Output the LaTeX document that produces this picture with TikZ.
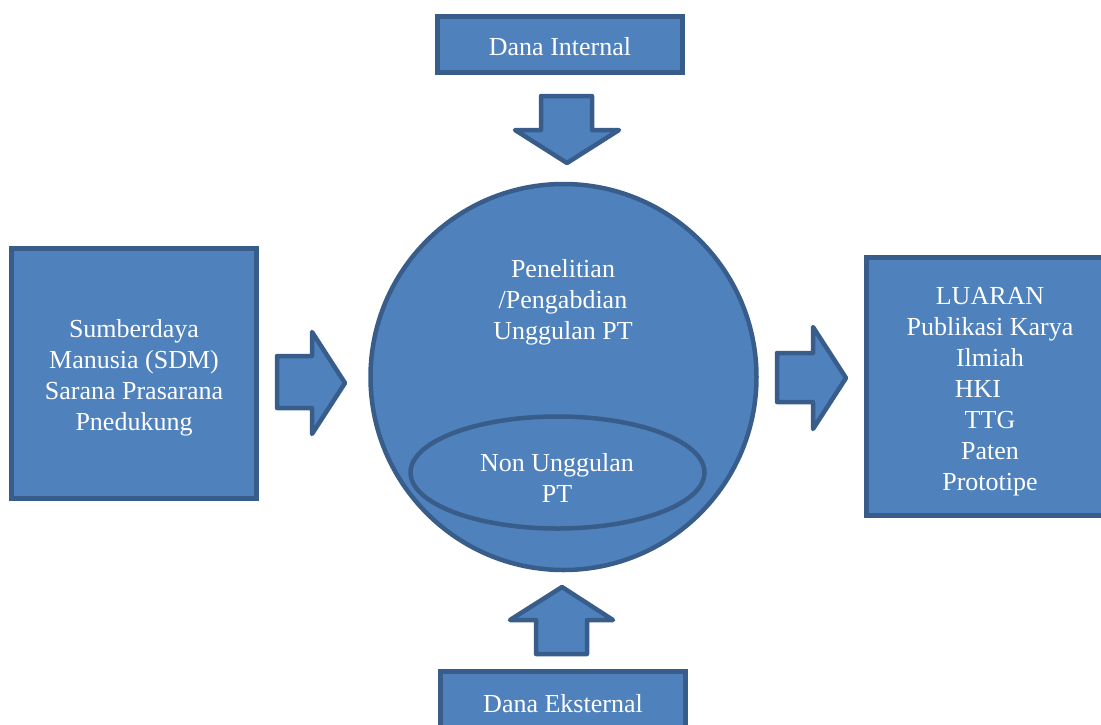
\documentclass[tikz,border=0pt]{standalone}
\usepackage{fontspec}
\setmainfont{Liberation Serif}
\usetikzlibrary{shapes.geometric}
\definecolor{boxfill}{HTML}{4F81BD}
\definecolor{boxline}{HTML}{385D8A}
\tikzset{
  kotak/.style={rectangle, draw=boxline, fill=boxfill, line width=4.5pt, inner sep=0pt, text=white, align=center, font=\fontsize{26}{31}\selectfont},
  panah/.style={draw=boxline, fill=boxfill, line width=4.5pt, line join=round},
  teks/.style={text=white, align=center, font=\fontsize{26}{31}\selectfont}
}
\begin{document}
\begin{tikzpicture}[x=1pt, y=-1pt]
    \useasboundingbox (0,0) rectangle (1101,724);

    % kotak
    \node[kotak, minimum width=245pt, minimum height=56pt] (internal) at (560, 44.5) {};
    \node[kotak, minimum width=245pt, minimum height=250pt] (sdm) at (134, 373.5) {};
    \node[kotak, minimum width=244pt, minimum height=258pt] (luaran) at (988.5, 386.5) {};
    \node[kotak, minimum width=245pt, minimum height=64pt] (eksternal) at (563, 703.5) {Dana Eksternal};

    % lingkaran
    \node[kotak, circle, minimum size=386pt] (unggul) at (563.5, 377) {};
    \node[kotak, ellipse, minimum width=294pt, minimum height=112pt] (nonunggul) at (557.5, 472.5) {};

    % panah
    \draw[panah] (541,96) -- (592,96) -- (592,130) -- (619,130) -- (567,163) -- (515,130) -- (541,130) -- cycle;
    \draw[panah] (536,654) -- (587,654) -- (587,620) -- (613,620) -- (562,587) -- (510,620) -- (536,620) -- cycle;
    \draw[panah] (277,356) -- (312,356) -- (312,332) -- (345,383) -- (312,434) -- (312,408) -- (277,408) -- cycle;
    \draw[panah] (777,353) -- (813,353) -- (813,327) -- (846,378) -- (813,429) -- (813,402) -- (777,402) -- cycle;

    % teks
    \node[teks] (tinternal) at (560, 46.5) {Dana Internal};
    \node[teks] (tsdm) at (134, 377.5) {Sumberdaya\\Manusia (SDM)\\Sarana Prasarana\\Pnedukung};
    \node[teks] (tunggul) at (563, 302) {Penelitian\\/Pengabdian\\Unggulan PT};
    \node[teks] (tnon) at (557, 477.5) {Non Unggulan\\PT};
    \node[teks] (tluaran) at (990, 392) {LUARAN\\Publikasi Karya\\Ilmiah\\HKI\hspace*{24pt}\mbox{}\\TTG\\Paten\\Prototipe};
\end{tikzpicture}
\end{document}
